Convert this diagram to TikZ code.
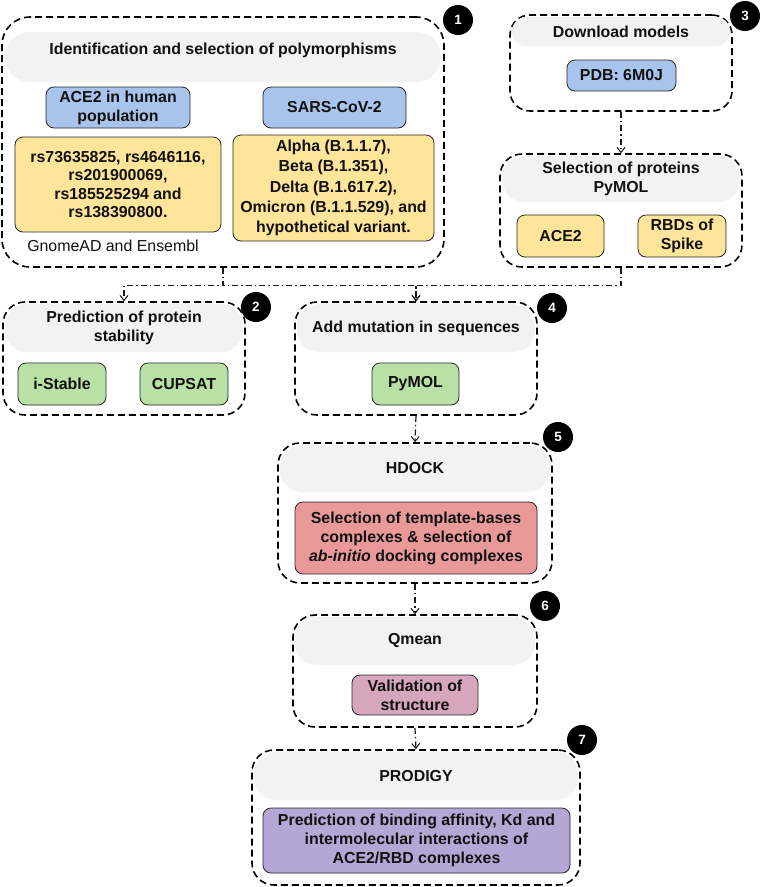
\documentclass[tikz,border=0pt]{standalone}
\usepackage{fontspec}
\setmainfont{Liberation Sans}
\usetikzlibrary{arrows.meta}
\definecolor{hdrgrey}{HTML}{F2F2F2}
\definecolor{cblue}{HTML}{A9C4EB}
\definecolor{cyellow}{HTML}{FFE599}
\definecolor{cgreen}{HTML}{B9E0A5}
\definecolor{cred}{HTML}{EA9999}
\definecolor{cpink}{HTML}{D5A6BD}
\definecolor{cpurple}{HTML}{B4A7D6}
\definecolor{ink}{HTML}{111111}
\begin{document}
\begin{tikzpicture}[x=1pt,y=-1pt,
  txt/.style={font=\fontsize{15.9}{19}\selectfont\bfseries, text=ink, align=center, inner sep=0},
  dbox/.style={draw=black, dash pattern=on 7pt off 4pt, line width=1.6pt, rounded corners=22pt, inner sep=0},
  hdr/.style={txt, fill=hdrgrey, draw=none, rounded corners=22pt},
  ibox/.style={txt, draw=black!85, line width=0.8pt, rounded corners=8pt},
  badge/.style={circle, fill=black, text=white, font=\fontsize{13.5}{14}\selectfont\bfseries, minimum size=30pt, inner sep=0},
  conn/.style={draw=black!90, line width=1.2pt, dash pattern=on 6pt off 3pt on 1.5pt off 3pt, -{Straight Barb[length=5pt,width=8pt,line width=1pt]}}
]
\useasboundingbox (0,0) rectangle (764,887);

% ---------- Box 1 ----------
\node[dbox, rounded corners=28pt, minimum width=442pt, minimum height=250pt] (box1) at (223,142) {};
\node[hdr, rounded corners=25pt, minimum width=436pt, minimum height=50pt] (h1) at (223,57) {};
\node[txt] (t1) at (223,50) {Identification and selection of polymorphisms};
\node[ibox, fill=cblue, minimum width=144pt, minimum height=41pt] (ace) at (118,107.5) {ACE2 in human\\population};
\node[ibox, fill=cblue, minimum width=143pt, minimum height=41pt] (sars) at (334.5,107.5) {SARS-CoV-2};
\node[ibox, fill=cyellow, font=\fontsize{15.9}{18.5}\selectfont\bfseries, minimum width=206pt, minimum height=95pt] (rs) at (118,184.5) {rs73635825, rs4646116,\\rs201900069,\\rs185525294 and\\rs138390800.};
\node[ibox, fill=cyellow, font=\fontsize{15.9}{20.2}\selectfont\bfseries, minimum width=201pt, minimum height=106pt] (var) at (333.5,188) {Alpha (B.1.1.7),\\Beta (B.1.351),\\Delta (B.1.617.2),\\Omicron (B.1.1.529), and\\hypothetical variant.};
\node[txt, font=\fontsize{15.9}{19}\selectfont] (gn) at (113,246) {GnomeAD and Ensembl};
\node[badge] (b1) at (458,20) {1};

% ---------- Box 3 ----------
\node[dbox, rounded corners=20pt, minimum width=222pt, minimum height=96pt] (box3) at (621,63) {};
\node[hdr, rounded corners=14pt, minimum width=218pt, minimum height=29pt] (h3) at (621,31.5) {Download models};
\node[ibox, fill=cblue, minimum width=109pt, minimum height=31pt] (pdb) at (621.5,75.5) {PDB: 6M0J};
\node[badge] (b3) at (745,16) {3};

% ---------- Selection ----------
\node[dbox, minimum width=242pt, minimum height=113pt] (sel) at (621,210.5) {};
\node[hdr, minimum width=238pt, minimum height=46pt] (hs) at (621,179) {Selection of proteins\\PyMOL};
\node[ibox, fill=cyellow, minimum width=87pt, minimum height=42pt] (sace) at (560.5,236) {ACE2};
\node[ibox, fill=cyellow, minimum width=88pt, minimum height=42pt] (rbd) at (682,236) {RBDs of\\Spike};

% ---------- Box 2 ----------
\node[dbox, minimum width=242pt, minimum height=113pt] (box2) at (124,358.5) {};
\node[hdr, minimum width=238pt, minimum height=48pt] (h2) at (124,328) {Prediction of protein\\stability};
\node[ibox, fill=cgreen, minimum width=88pt, minimum height=42pt] (ist) at (62,384) {i-Stable};
\node[ibox, fill=cgreen, minimum width=88pt, minimum height=42pt] (cup) at (184,384) {CUPSAT};
\node[badge] (b2) at (256,307) {2};

% ---------- Box 4 ----------
\node[dbox, minimum width=242pt, minimum height=113pt] (box4) at (416,358.5) {};
\node[hdr, minimum width=238pt, minimum height=48pt] (h4) at (416,328) {Add mutation in sequences};
\node[ibox, fill=cgreen, minimum width=87pt, minimum height=42pt] (pym) at (415.5,384) {PyMOL};
\node[badge] (b4) at (552,308) {4};

% ---------- Box 5 ----------
\node[dbox, minimum width=274pt, minimum height=140pt] (box5) at (415,513) {};
\node[hdr, minimum width=270pt, minimum height=47pt] (h5) at (415,468.5) {HDOCK};
\node[ibox, fill=cred, minimum width=242pt, minimum height=72pt] (hd) at (416,538) {Selection of template-bases\\complexes \& selection of\\\textit{ab-initio} docking complexes};
\node[badge] (b5) at (558,437) {5};

% ---------- Box 6 ----------
\node[dbox, minimum width=244pt, minimum height=112pt] (box6) at (415,671) {};
\node[hdr, minimum width=240pt, minimum height=48pt] (h6) at (415,641) {Qmean};
\node[ibox, fill=cpink, minimum width=126pt, minimum height=40pt] (val) at (415,695) {Validation of\\structure};
\node[badge] (b6) at (545,606) {6};

% ---------- Box 7 ----------
\node[dbox, minimum width=328pt, minimum height=135pt] (box7) at (416,817.5) {};
\node[hdr, minimum width=324pt, minimum height=48pt] (h7) at (416,776) {PRODIGY};
\node[ibox, fill=cpurple, minimum width=307pt, minimum height=65pt] (pro) at (416.5,840.5) {Prediction of binding affinity, Kd and\\intermolecular interactions of\\ACE2/RBD complexes};
\node[badge] (b7) at (582,740) {7};

% ---------- Connectors ----------
\draw[conn] (box1.south) -- ++(0,18) -| (box2.north);
\draw[conn] (box1.south) -- ++(0,18) -| (box4.north);
\draw[conn] (sel.south) -- ++(0,18) -| (box4.north);
\draw[conn] (box3.south) -- (sel.north);
\draw[conn] (box4.south) -- (box5.north);
\draw[conn] (box5.south) -- (box6.north);
\draw[conn] (box6.south) -- (box7.north);
\end{tikzpicture}
\end{document}
